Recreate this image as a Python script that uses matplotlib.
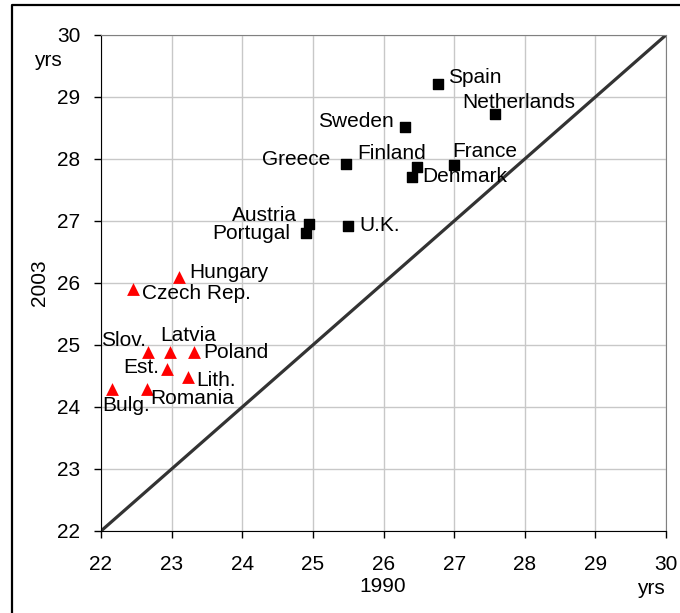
import matplotlib
matplotlib.use("Agg")
import matplotlib.pyplot as plt
from matplotlib.lines import Line2D

plt.rcParams["font.family"] = ["Liberation Sans", "DejaVu Sans"]

# EU-15 countries (black squares)
west_names = ["Spain", "Netherlands", "Sweden", "Greece", "Finland", "Denmark",
              "France", "Austria", "Portugal", "U.K."]
west_1990 = [26.77, 27.58, 26.31, 25.47, 26.48, 26.40, 27.00, 24.95, 24.90, 25.50]
west_2003 = [29.21, 28.72, 28.52, 27.92, 27.87, 27.71, 27.91, 26.95, 26.80, 26.92]

# accession countries (red triangles)
east_names = ["Hungary", "Czech Rep.", "Slov.", "Latvia", "Poland", "Est.",
              "Lith.", "Bulg.", "Romania"]
east_1990 = [23.11, 22.45, 22.66, 22.98, 23.31, 22.94, 23.23, 22.15, 22.65]
east_2003 = [26.09, 25.91, 24.88, 24.88, 24.88, 24.61, 24.49, 24.29, 24.29]

ticks = [22, 23, 24, 25, 26, 27, 28, 29, 30]

# label placement: (dx px, dy px, ha)
west_offsets = [(10, 6, "left"), (-33, 12, "left"), (-12, 5, "right"),
                (-16, 4, "right"), (9, 14, "right"), (10, 0, "left"),
                (-2, 13, "left"), (-12, 9, "right"), (-16, 0, "right"),
                (11, 0, "left")]
east_offsets = [(10, 5, "left"), (9, -5, "left"), (-2, 12, "right"),
                (-10, 17, "left"), (10, 0, "left"), (-8, 2, "right"),
                (8, -4, "left"), (-9, -16, "left"), (3, -9, "left")]

fig = plt.figure(figsize=(6.8, 6.13), dpi=100)
ax = fig.add_axes([101 / 680, 1 - 531 / 613, 565 / 680, 496 / 613])

ax.plot([22, 30], [22, 30], color="#333333", linewidth=2.3, zorder=2)

ax.scatter(west_1990, west_2003, marker="s", s=50, color="black", zorder=3)
ax.scatter(east_1990, east_2003, marker="^", s=85, color="#ff0000",
           linewidths=0, zorder=3)

for name, x, y, (dx, dy, ha) in zip(west_names, west_1990, west_2003, west_offsets):
    ax.annotate(name, (x, y), xytext=(dx, dy), textcoords="offset pixels",
                ha=ha, va="center", fontsize=15)
for name, x, y, (dx, dy, ha) in zip(east_names, east_1990, east_2003, east_offsets):
    ax.annotate(name, (x, y), xytext=(dx, dy), textcoords="offset pixels",
                ha=ha, va="center", fontsize=15)

ax.set_xlim(22, 30)
ax.set_ylim(22, 30)
ax.set_xticks(ticks)
ax.set_yticks(ticks)
ax.grid(True, color="#c8c8c8", linewidth=1)
ax.set_axisbelow(True)
ax.tick_params(direction="out", length=5, width=1, labelsize=15)
ax.tick_params(axis="x", pad=12)
ax.tick_params(axis="y", pad=10)

for side in ["top", "right"]:
    ax.spines[side].set_color("#808080")
for side in ["left", "bottom"]:
    ax.spines[side].set_color("black")

fig.text(383 / 680, 1 - 587 / 613, "1990", ha="center", va="center", fontsize=15)
fig.text(651 / 680, 1 - 588 / 613, "yrs", ha="center", va="center", fontsize=15)
fig.text(48 / 680, 1 - 61 / 613, "yrs", ha="center", va="center", fontsize=15)
fig.text(40 / 680, 1 - 283 / 613, "2003", ha="center", va="center",
         fontsize=15, rotation=90)

# outer frame (top and left edges visible)
fig.add_artist(Line2D([12 / 680, 12 / 680, 1], [0, 1 - 5 / 613, 1 - 5 / 613],
                      transform=fig.transFigure, color="black", linewidth=1.6))

fig.savefig("out.png", dpi=100)
